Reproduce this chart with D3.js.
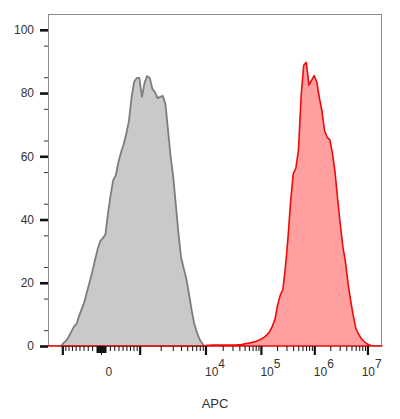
<!DOCTYPE html>
<html>
<head>
<meta charset="utf-8">
<script src="https://cdn.jsdelivr.net/npm/d3@7"></script>
<style>
  body { margin: 0; background: #fff; }
  svg text { font-family: "Liberation Sans", Arial, sans-serif; fill: #333; }
</style>
</head>
<body>
<div id="chart"></div>
<script>
// counts per display channel (128 channels span the x axis)
const grayStart = 5;
const grayCounts = [0, 1.0, 1.7, 3.0, 4.6, 6.2, 7.1, 9.7, 11.9, 14.1, 17.3, 20.4, 23.6, 27.1, 30.6,
  33.1, 34.1, 35.3, 42.0, 47.7, 52.5, 54.0, 58.2, 61.3, 63.8, 67.1, 71.1, 78.4, 83.5, 84.8,
  84.8, 78.8, 83.2, 85.4, 84.8, 81.3, 80.3, 78.4, 78.8, 79.1, 76.5, 68.3, 59.8, 53.5, 44.5,
  35.6, 28.0, 24.6, 21.3, 16.6, 11.6, 7.2, 4.5, 2.3, 0.9, 0];
const redStart = 60;
const redCounts = [0, 0.2, 0.2, 0.3, 0.3, 0.3, 0.3, 0.3, 0.3, 0.3, 0.3, 0.3, 0.3, 0.4, 0.4,
  0.6, 0.8, 0.9, 1.1, 1.3, 1.6, 1.9, 2.3, 2.9, 3.6, 4.6, 6.3, 8.5, 13.0, 16.0,
  17.8, 25, 34.5, 46, 54.5, 56.3, 62, 79, 88.8, 89.7, 82.5, 84.0, 85.5, 83.5, 78.5,
  74.3, 68, 66, 65.2, 61, 55, 46.5, 38.5, 31.5, 26.5, 19.7, 14.3, 9.5, 5.5, 3.8,
  2.4, 1.5, 0.8, 0.4, 0.1, 0];

const yMajor = [0, 20, 40, 60, 80, 100];
const yMinor = d3.range(5, 100, 10);
const xMajor = [-1e3, 1e3, 1e4, 1e5, 1e6, 1e7];
const xLabels = [0, 1e4, 1e5, 1e6, 1e7];
const axisTitle = "APC";

const CHANNELS = 128;
// logicle transform: data value -> display channel
const LOGICLE = { zero: 20.5, perNat: 8.84, k: 96.2, p: 4.35 };

function logicleS(u) {
  const p = LOGICLE.p;
  return LOGICLE.k * (Math.exp(u) - p * p * Math.exp(-u / p) + p * p - 1);
}
function toChannel(v) {
  const a = Math.abs(v);
  let lo = 0, hi = 30;
  for (let i = 0; i < 60; i++) {
    const mid = (lo + hi) / 2;
    if (logicleS(mid) < a) lo = mid; else hi = mid;
  }
  return LOGICLE.zero + Math.sign(v) * LOGICLE.perNat * (lo + hi) / 2;
}

const WIDTH = 400, HEIGHT = 419;
const margin = { left: 48, top: 14, right: 18, bottom: 73 };
const plotW = WIDTH - margin.left - margin.right;
const plotH = HEIGHT - margin.top - margin.bottom;

const svg = d3.select("#chart").append("svg")
  .attr("width", WIDTH).attr("height", HEIGHT);

const x = d3.scaleLinear().domain([0, CHANNELS]).range([margin.left, margin.left + plotW]);
const y = d3.scaleLinear().domain([0, 105]).range([margin.top + plotH, margin.top]);

// frame
svg.append("rect")
  .attr("x", margin.left + 0.5).attr("y", margin.top + 0.5)
  .attr("width", plotW - 1).attr("height", plotH - 1)
  .attr("fill", "none").attr("stroke", "#8c8c8c");

function series(start, counts, padFull) {
  let pts = counts.map((c, i) => ({ ch: start + i, v: c }));
  if (padFull) {
    pts = [{ ch: 0, v: 0 }].concat(pts, [{ ch: CHANNELS, v: 0 }]);
  }
  return pts;
}

const area = d3.area()
  .x(d => x(d.ch))
  .y0(y(0))
  .y1(d => y(d.v));

svg.append("path")
  .datum(series(grayStart, grayCounts, false))
  .attr("d", area)
  .attr("fill", "#c9c9c9")
  .attr("stroke", "#7d7d7d")
  .attr("stroke-width", 1.8)
  .attr("stroke-linejoin", "round");

svg.append("path")
  .datum(series(redStart, redCounts, true))
  .attr("d", area)
  .attr("fill", "#ff9a9a")
  .attr("fill-opacity", 0.95)
  .attr("stroke", "#ee0a0a")
  .attr("stroke-width", 1.6)
  .attr("stroke-linejoin", "round");

// y axis
const yAxis = svg.append("g").attr("transform", `translate(${margin.left},0)`)
  .call(d3.axisLeft(y).tickValues(yMajor).tickSize(8).tickPadding(6));
yAxis.select(".domain").remove();
yAxis.selectAll(".tick line").attr("stroke", "#111").attr("stroke-width", 2.6);
yAxis.selectAll(".tick text").attr("font-size", 12).style("fill", "#333");

const yAxisMinor = svg.append("g").attr("transform", `translate(${margin.left},0)`)
  .call(d3.axisLeft(y).tickValues(yMinor).tickSize(4).tickFormat(""));
yAxisMinor.select(".domain").remove();
yAxisMinor.selectAll(".tick line").attr("stroke", "#333").attr("stroke-width", 1);

// x axis ticks (logicle)
const xMinor = [];
for (let k = 1; k <= 9; k++) {
  xMinor.push({ v: k * 10, len: 7 }, { v: -k * 10, len: 7 });
  xMinor.push({ v: k * 100, len: k === 1 ? 7 : 5 }, { v: -k * 100, len: k === 1 ? 7 : 5 });
}
for (let e = 3; e <= 6; e++) {
  for (let k = 2; k <= 9; k++) xMinor.push({ v: k * Math.pow(10, e), len: 5 });
}
const xTicks = xMinor.concat(xMajor.map(v => ({ v: v, len: 9, major: true })), [{ v: 0, len: 9 }])
  .filter(t => x(toChannel(t.v)) > margin.left + 2 && x(toChannel(t.v)) < margin.left + plotW);

const baseY = margin.top + plotH;
svg.append("g").selectAll("line")
  .data(xTicks)
  .join("line")
  .attr("x1", d => x(toChannel(d.v))).attr("x2", d => x(toChannel(d.v)))
  .attr("y1", baseY).attr("y2", d => baseY + d.len)
  .attr("stroke", "#111")
  .attr("stroke-width", d => d.major ? 2.2 : 1);

const labelG = svg.append("g");
xLabels.forEach(v => {
  const px = x(toChannel(v));
  const t = labelG.append("text")
    .attr("y", baseY + 30)
    .attr("font-size", 12);
  if (v === 0) {
    t.attr("x", px + 4).text("0");
  } else {
    t.attr("x", px - 1);
    t.append("tspan").text("10");
    t.append("tspan").attr("dy", -8).text(Math.round(Math.log10(v)));
    const bb = t.node().getBBox();
    const over = bb.x + bb.width - (margin.left + plotW);
    if (over > 0) t.attr("x", px - 1 - over);
  }
});

svg.append("text")
  .attr("x", margin.left + plotW / 2)
  .attr("y", baseY + 62)
  .attr("text-anchor", "middle")
  .attr("font-size", 13)
  .text(axisTitle);
</script>
</body>
</html>
